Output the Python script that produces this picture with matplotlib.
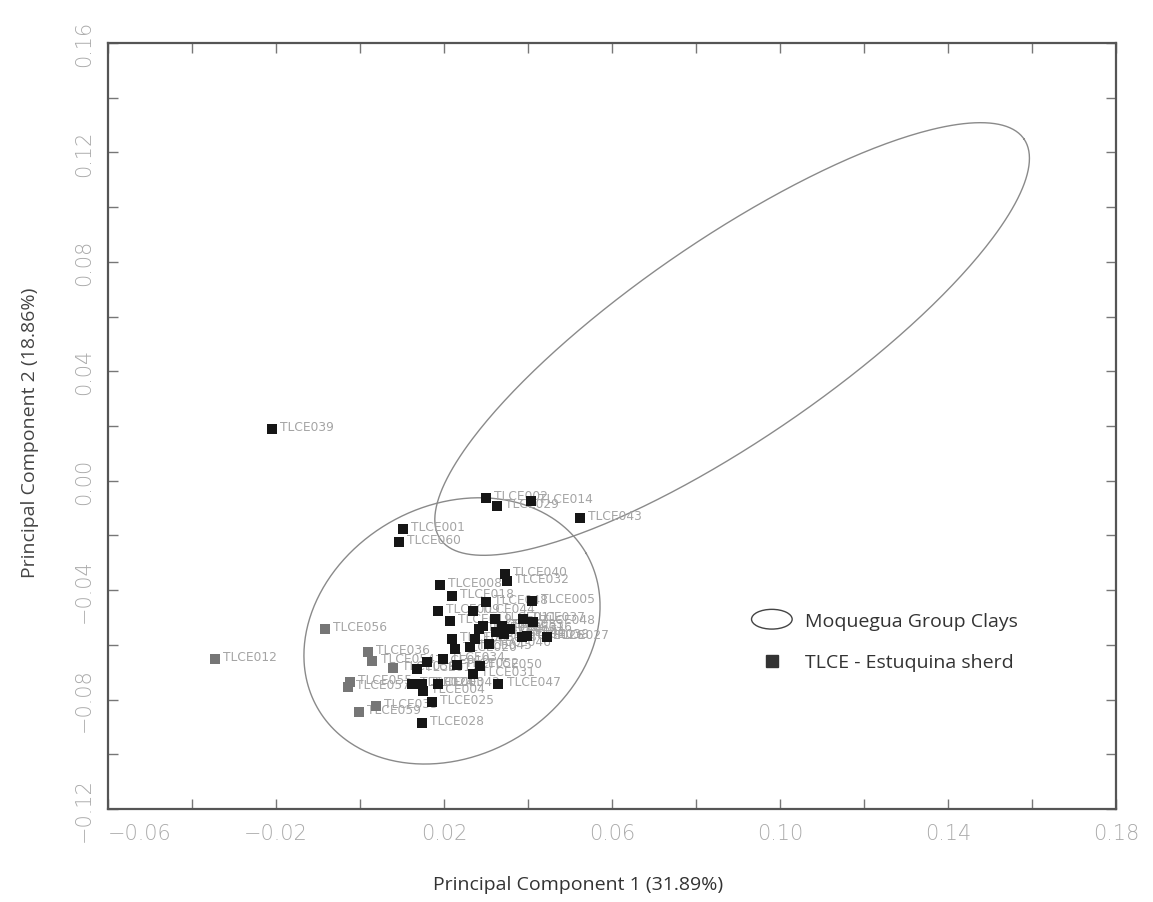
import numpy as np
import matplotlib
matplotlib.use("Agg")
import matplotlib.pyplot as plt
from matplotlib.patches import Ellipse
from matplotlib.legend_handler import HandlerPatch
from matplotlib.lines import Line2D

# ---- data -------------------------------------------------------------
black_x = [-0.0210, 0.0300, 0.0326, 0.0407, 0.0524, 0.0102, 0.0093, 0.0345,
           0.0350, 0.0190, 0.0219, 0.0410, 0.0186, 0.0269, 0.0300, 0.0214,
           0.0321, 0.0283, 0.0293, 0.0338, 0.0357, 0.0343, 0.0388, 0.0412,
           0.0386, 0.0398, 0.0445, 0.0324, 0.0219, 0.0274, 0.0307, 0.0226,
           0.0262, 0.0198, 0.0231, 0.0160, 0.0136, 0.0286, 0.0269, 0.0124,
           0.0148, 0.0150, 0.0186, 0.0329, 0.0171, 0.0148]
black_y = [0.0189, -0.0063, -0.0092, -0.0074, -0.0136, -0.0176, -0.0224, -0.0341,
           -0.0366, -0.0381, -0.0421, -0.0439, -0.0476, -0.0476, -0.0443, -0.0513,
           -0.0505, -0.0542, -0.0531, -0.0531, -0.0542, -0.0560, -0.0505, -0.0516,
           -0.0571, -0.0567, -0.0571, -0.0553, -0.0578, -0.0578, -0.0597, -0.0615,
           -0.0608, -0.0651, -0.0673, -0.0662, -0.0688, -0.0677, -0.0706, -0.0743,
           -0.0743, -0.0768, -0.0743, -0.0743, -0.0809, -0.0885]
black_labels = ["TLCE039", "TLCE002", "TLCE029", "TLCE014", "TLCE043", "TLCE001",
                "TLCE060", "TLCE040", "TLCE032", "TLCE008", "TLCE018", "TLCE005",
                "TLCE009", "TLCE044", "TLCE048", "TLCE019", "TLCE011", "TLCE030",
                "TLCE022", "TLCE033", "TLCE016", "TLCE041", "TLCE037", "TLCE048",
                "TLCE026", "TLCE038", "TLCE027", "TLCE015", "TLCE023", "TLCE013",
                "TLCE046", "TLCE020", "TLCE045", "TLCE034", "TLCE052", "TLCE010",
                "TLCE017", "TLCE050", "TLCE031", "TLCE024", "TLCE003", "TLCE004",
                "TLCE042", "TLCE047", "TLCE025", "TLCE028"]

gray_x = [-0.0345, -0.0083, 0.0019, 0.0029, 0.0079, -0.0024, -0.0029, -0.0002, 0.0038]
gray_y = [-0.0651, -0.0542, -0.0626, -0.0659, -0.0684, -0.0736, -0.0754, -0.0845, -0.0823]
gray_labels = ["TLCE012", "TLCE056", "TLCE036", "TLCE054", "TLCE058", "TLCE055",
               "TLCE057", "TLCE059", "TLCE035"]

# confidence ellipses: centre and the two semi-axis vectors (data units)
big_center = (0.0886, 0.0518)
big_axis_a = (0.0695, 0.0731)
big_axis_b = (0.01345, -0.03015)
small_center = (0.0219, -0.0549)
small_axis_a = (0.03196, 0.02833)
small_axis_b = (0.01488, -0.03957)

x_ticks = [-0.06, -0.02, 0.02, 0.06, 0.10, 0.14, 0.18]
y_ticks = [0.16, 0.12, 0.08, 0.04, 0.00, -0.04, -0.08, -0.12]
x_label = "Principal Component 1 (31.89%)"
y_label = "Principal Component 2 (18.86%)"
legend_labels = ["Moquegua Group Clays", "TLCE - Estuquina sherd"]

# ---- plot -------------------------------------------------------------
plt.rcParams['font.family'] = ['Open Sans', 'DejaVu Sans']
fig = plt.figure(figsize=(11.53, 9.03), dpi=100)
ax = fig.add_axes([108/1153, 93/903, 1008/1153, 766/903])

t = np.linspace(0, 2*np.pi, 400)
def ellipse_pts(c, a, b):
    ex = c[0] + a[0]*np.cos(t) + b[0]*np.sin(t)
    ey = c[1] + a[1]*np.cos(t) + b[1]*np.sin(t)
    return ex, ey

ex, ey = ellipse_pts(big_center, big_axis_a, big_axis_b)
ax.plot(ex, ey, color='#8a8a8a', lw=1.0, zorder=1)
ex, ey = ellipse_pts(small_center, small_axis_a, small_axis_b)
ax.plot(ex, ey, color='#8a8a8a', lw=1.0, zorder=1)

lab_kw = dict(fontsize=8.8, color='#a4a4a4', family='DejaVu Sans',
              va='center', ha='left', zorder=2)
for x, y, s in zip(black_x, black_y, black_labels):
    ax.annotate(s, (x, y), xytext=(6, 1.5), textcoords='offset points', **lab_kw)
for x, y, s in zip(gray_x, gray_y, gray_labels):
    ax.annotate(s, (x, y), xytext=(6, 1.5), textcoords='offset points', **lab_kw)

ax.scatter(gray_x, gray_y, marker='s', s=62, color='#767676', zorder=3, linewidths=0)
ax.scatter(black_x, black_y, marker='s', s=62, color='#161616', zorder=4, linewidths=0)

ax.set_xlim(-0.06, 0.18)
ax.set_ylim(-0.12, 0.16)
ax.set_xticks(x_ticks)
ax.set_xticklabels([f"{v:.2f}".replace("-", "\u2212") for v in x_ticks])
ax.set_yticks(y_ticks)
ax.set_yticklabels([f"{v:.2f}".replace("-", "\u2212") for v in y_ticks],
                   rotation=90, va='center')
ax.set_xticks(np.arange(-0.06, 0.1801, 0.02), minor=True)
ax.set_yticks(np.arange(-0.12, 0.1601, 0.02), minor=True)
ax.tick_params(which='both', direction='in', top=True, right=True,
               color='#777777', width=1.0)
ax.tick_params(which='major', length=7, labelsize=15, labelcolor='#aaaaaa', pad=10)
ax.tick_params(which='minor', length=7)
for lbl in ax.get_xticklabels() + ax.get_yticklabels():
    lbl.set_family('DejaVu Sans')
    lbl.set_fontweight('light')
ax.get_xticklabels()[0].set_ha('left')
for sp in ax.spines.values():
    sp.set_color('#555555')
    sp.set_linewidth(1.6)

fig.text(578/1153, 1 - 885/903, x_label, ha='center', va='center',
         fontsize=14, color='#333333')
fig.text(30/1153, 1 - 433/903, y_label, ha='center', va='center',
         rotation=90, fontsize=14, color='#444444')

# legend
class HandlerEllipse(HandlerPatch):
    def create_artists(self, legend, orig_handle, xdescent, ydescent,
                       width, height, fontsize, trans):
        c = (0.5*width - 0.5*xdescent, 0.5*height - 0.5*ydescent)
        p = Ellipse(xy=c, width=width*0.95, height=height*1.45)
        self.update_prop(p, orig_handle, legend)
        p.set_transform(trans)
        return [p]

h_ell = Ellipse((0, 0), 1, 1, facecolor='white', edgecolor='#444444', lw=1.0)
h_sq = Line2D([], [], marker='s', linestyle='none', color='#333333', markersize=8)
leg = ax.legend([h_ell, h_sq], legend_labels,
                handler_map={Ellipse: HandlerEllipse()},
                loc='upper left', bbox_to_anchor=(0.62, 0.28), frameon=False,
                fontsize=14, handlelength=2.2, handletextpad=0.6,
                labelspacing=1.2, labelcolor='#333333')

fig.savefig("out.png", dpi=100)
